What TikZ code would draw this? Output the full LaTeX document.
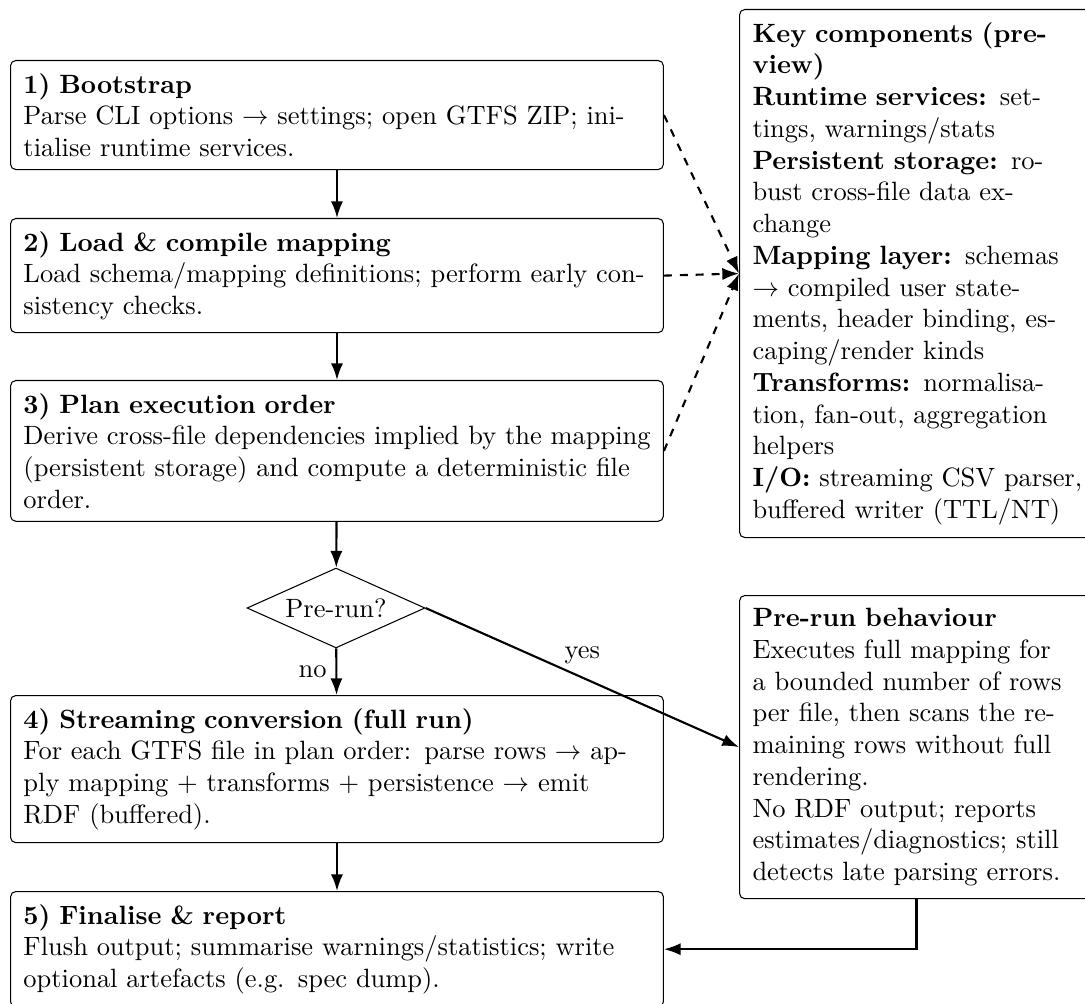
\documentclass[tikz,border=0pt]{standalone}
\usetikzlibrary{arrows.meta,shapes.geometric}

\tikzset{
  stepbox/.style={draw, line width=0.4pt, rounded corners=2pt, align=left,
    text width=237pt, inner xsep=4.9pt, inner ysep=4.8pt, anchor=north west},
  keybox/.style={stepbox, text width=130pt},
  sidebox/.style={stepbox, text width=124pt},
  decision/.style={draw, line width=0.4pt, diamond, aspect=2.2, inner sep=0pt,
    minimum width=67.3pt, minimum height=30.2pt},
  flow/.style={thick, -{Latex[length=6.3pt,width=4.6pt]}},
  link/.style={flow, dashed},
}

\begin{document}
\begin{tikzpicture}[x=0.378pt, y=-0.378pt]
  \useasboundingbox (0,0) rectangle (1085,1003);

  % main pipeline
  \node[stepbox] (boot) at (10,60)
    {\textbf{1) Bootstrap}\\Parse CLI options $\rightarrow$ settings; open GTFS ZIP; ini-\\tialise runtime services.};
  \node[stepbox] (load) at (10,218)
    {\textbf{2) Load \& compile mapping}\\Load schema/mapping definitions; perform early con-\\sistency checks.};
  \node[stepbox] (plan) at (10,380)
    {\textbf{3) Plan execution order}\\\mbox{Derive cross-file dependencies implied by the mapping}\\(persistent storage) and compute a deterministic file\\order.};
  \node[decision] (pre) at (336,608) {Pre-run?};
  \node[stepbox] (conv) at (10,695)
    {\textbf{4) Streaming conversion (full run)}\\For each GTFS file in plan order: parse rows $\rightarrow$ ap-\\ply mapping + transforms + persistence $\rightarrow$ emit\\RDF (buffered).};
  \node[stepbox] (fin) at (10,891)
    {\textbf{5) Finalise \& report}\\Flush output; summarise warnings/statistics; write\\optional artefacts (e.g. spec dump).};

  % side panels
  \node[keybox] (keys) at (739,9)
    {\textbf{Key components (pre-}\\\textbf{view)}\\\textbf{Runtime services:} set-\\tings, warnings/stats\\\textbf{Persistent storage:} ro-\\bust cross-file data ex-\\change\\\textbf{Mapping layer:} schemas\\$\rightarrow$ compiled user state-\\ments, header binding, es-\\caping/render kinds\\\textbf{Transforms:} normalisa-\\tion, fan-out, aggregation\\helpers\\\textbf{I/O:} streaming CSV parser,\\buffered writer (TTL/NT)};
  \node[sidebox] (prerun) at (739,595)
    {\textbf{Pre-run behaviour}\\Executes full mapping for\\a bounded number of rows\\per file, then scans the re-\\maining rows without full\\rendering.\\No RDF output; reports\\estimates/diagnostics; still\\detects late parsing errors.};

  % flow
  \draw[flow] (boot) -- (load);
  \draw[flow] (load) -- (plan);
  \draw[flow] (plan) -- (pre);
  \draw[flow] (pre) -- node[left] {no} (conv);
  \draw[flow] (conv) -- (fin);
  \draw[flow] (pre.east) -- node[above, yshift=1.5pt] {yes} (prerun.west);
  \draw[flow] (prerun.south) |- (fin.east);

  % references to the component panel
  \draw[link] (boot.east) -- (keys.west);
  \draw[link] (load.east) -- (keys.west);
  \draw[link] (plan.east) -- (keys.west);
\end{tikzpicture}
\end{document}
